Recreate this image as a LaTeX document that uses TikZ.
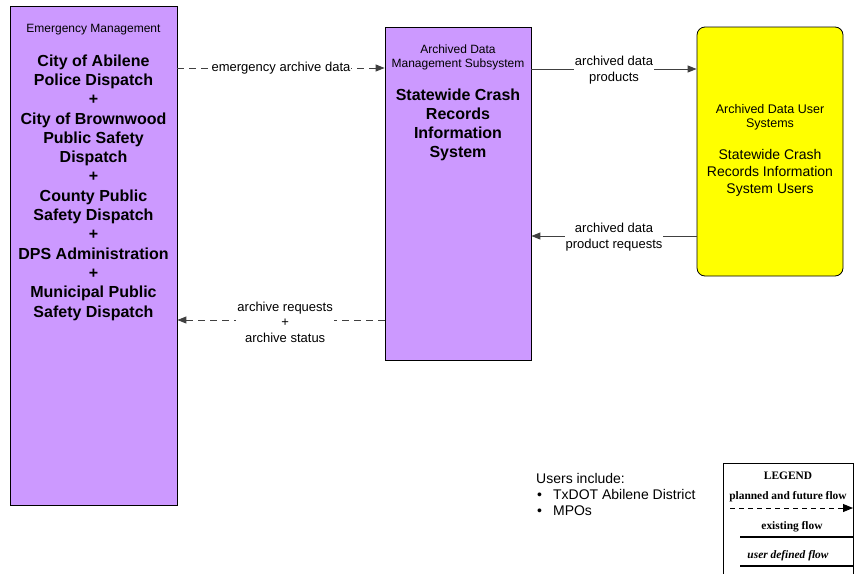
\documentclass[tikz,border=0pt]{standalone}
\usepackage{fontspec}
\setmainfont{Liberation Sans}
\newfontfamily\legendfont{Liberation Serif}
\usetikzlibrary{positioning,arrows.meta}

\definecolor{subsyspurple}{HTML}{CC99FF}
\definecolor{termyellow}{HTML}{FFFF00}

\begin{document}
\begin{tikzpicture}[
    x=1pt, y=-1pt,
    every node/.style={font=\fontsize{13}{15}\selectfont, inner sep=1pt},
    box/.style={draw=black, line width=0.8pt, inner sep=0pt},
    boxtitle/.style={font=\fontsize{12}{14}\selectfont, align=center},
    boxname/.style={font=\fontsize{16}{19.3}\selectfont\bfseries, align=center},
    flowlabel/.style={fill=white, align=center, font=\fontsize{13}{15.5}\selectfont},
    existing/.style={draw=black!75, line width=0.9pt, -{Triangle[length=9pt,width=7pt]}},
    planned/.style={existing, dash pattern=on 7pt off 5pt},
    legendtext/.style={font=\legendfont\fontsize{11.4}{12}\selectfont\bfseries}
]
\useasboundingbox (0,0) rectangle (854,573);

% === Emergency Management (left) ===
\node[box, fill=subsyspurple, minimum width=167pt, minimum height=499pt] (em) at (93.5,255.5) {};
\node[boxtitle] (emtitle) at (93.5,30) {Emergency Management};
\node[boxname] (emname) at (93.5,187.5) {City of Abilene\\Police Dispatch\\+\\City of Brownwood\\Public Safety\\Dispatch\\+\\County Public\\Safety Dispatch\\+\\DPS Administration\\+\\Municipal Public\\Safety Dispatch};

% === Archived Data Management Subsystem (middle) ===
\node[box, fill=subsyspurple, minimum width=146pt, minimum height=333pt] (adms) at (458,193.5) {};
\node[boxtitle] (admstitle) at (458,57) {Archived Data\\Management Subsystem};
\node[boxname, font=\fontsize{16}{19}\selectfont\bfseries] (admsname) at (458,124.5) {Statewide Crash\\Records\\Information\\System};

% === Archived Data User Systems (right) ===
\node[box, fill=termyellow, rounded corners=8pt, minimum width=146pt, minimum height=249pt] (users) at (770,151.5) {};
\node[boxtitle, font=\fontsize{12.5}{14}\selectfont] (userstitle) at (770,117) {Archived Data User\\Systems};
\node[boxtitle, font=\fontsize{14}{17}\selectfont] (usersname) at (770,173) {Statewide Crash\\Records Information\\System Users};

% === Flows ===
\draw[planned] (em.east |- 0,68) -- node[flowlabel, pos=0.5] (f1) {emergency archive data} (adms.west |- 0,68);
\draw[existing] (adms.east |- 0,69) -- node[flowlabel, pos=0.5, yshift=-1pt] (f2) {archived data\\products} (users.west |- 0,69);
\draw[existing] (users.west |- 0,236) -- node[flowlabel, pos=0.5, yshift=-1pt] (f3) {archived data\\product requests} (adms.east |- 0,236);
\draw[planned] (adms.west |- 0,320) -- node[flowlabel, pos=0.48, yshift=-2pt] (f4) {archive requests\\+\\archive status} (em.east |- 0,320);

% === Users note ===
\node[anchor=west, font=\fontsize{14}{15}\selectfont] (note) at (535,478) {Users include:};
\node[anchor=west, font=\fontsize{14}{15}\selectfont] (u1) at (536,494) {\textbullet\hspace{11pt}TxDOT Abilene District};
\node[anchor=west, font=\fontsize{14}{15}\selectfont] (u2) at (536,511) {\textbullet\hspace{11pt}MPOs};

% === Legend ===
\draw[black, line width=0.8pt] (723,580) -- (723,463) -- (853.4,463) -- (853.4,580);
\node[legendtext] (legend) at (788,476) {LEGEND};
\node[legendtext] (lplanned) at (788,497) {planned and future flow};
\coordinate (lp1) at (730,508);
\coordinate (lp2) at (853,508);
\draw[planned, draw=black, dash pattern=on 5pt off 4pt, -{Triangle[length=10pt,width=8pt]}] (lp1) -- (lp2);
\node[legendtext] (lexisting) at (792,527) {existing flow};
\coordinate (le1) at (740,537);
\coordinate (le2) at (853,537);
\draw[black, line width=1.2pt] (le1) -- (le2);
\node[legendtext, font=\legendfont\fontsize{11.4}{12}\selectfont\bfseries\itshape] (luser) at (788,556) {user defined flow};
\coordinate (lu1) at (740,566);
\coordinate (lu2) at (853,566);
\draw[black, line width=1.2pt] (lu1) -- (lu2);

\end{tikzpicture}
\end{document}
